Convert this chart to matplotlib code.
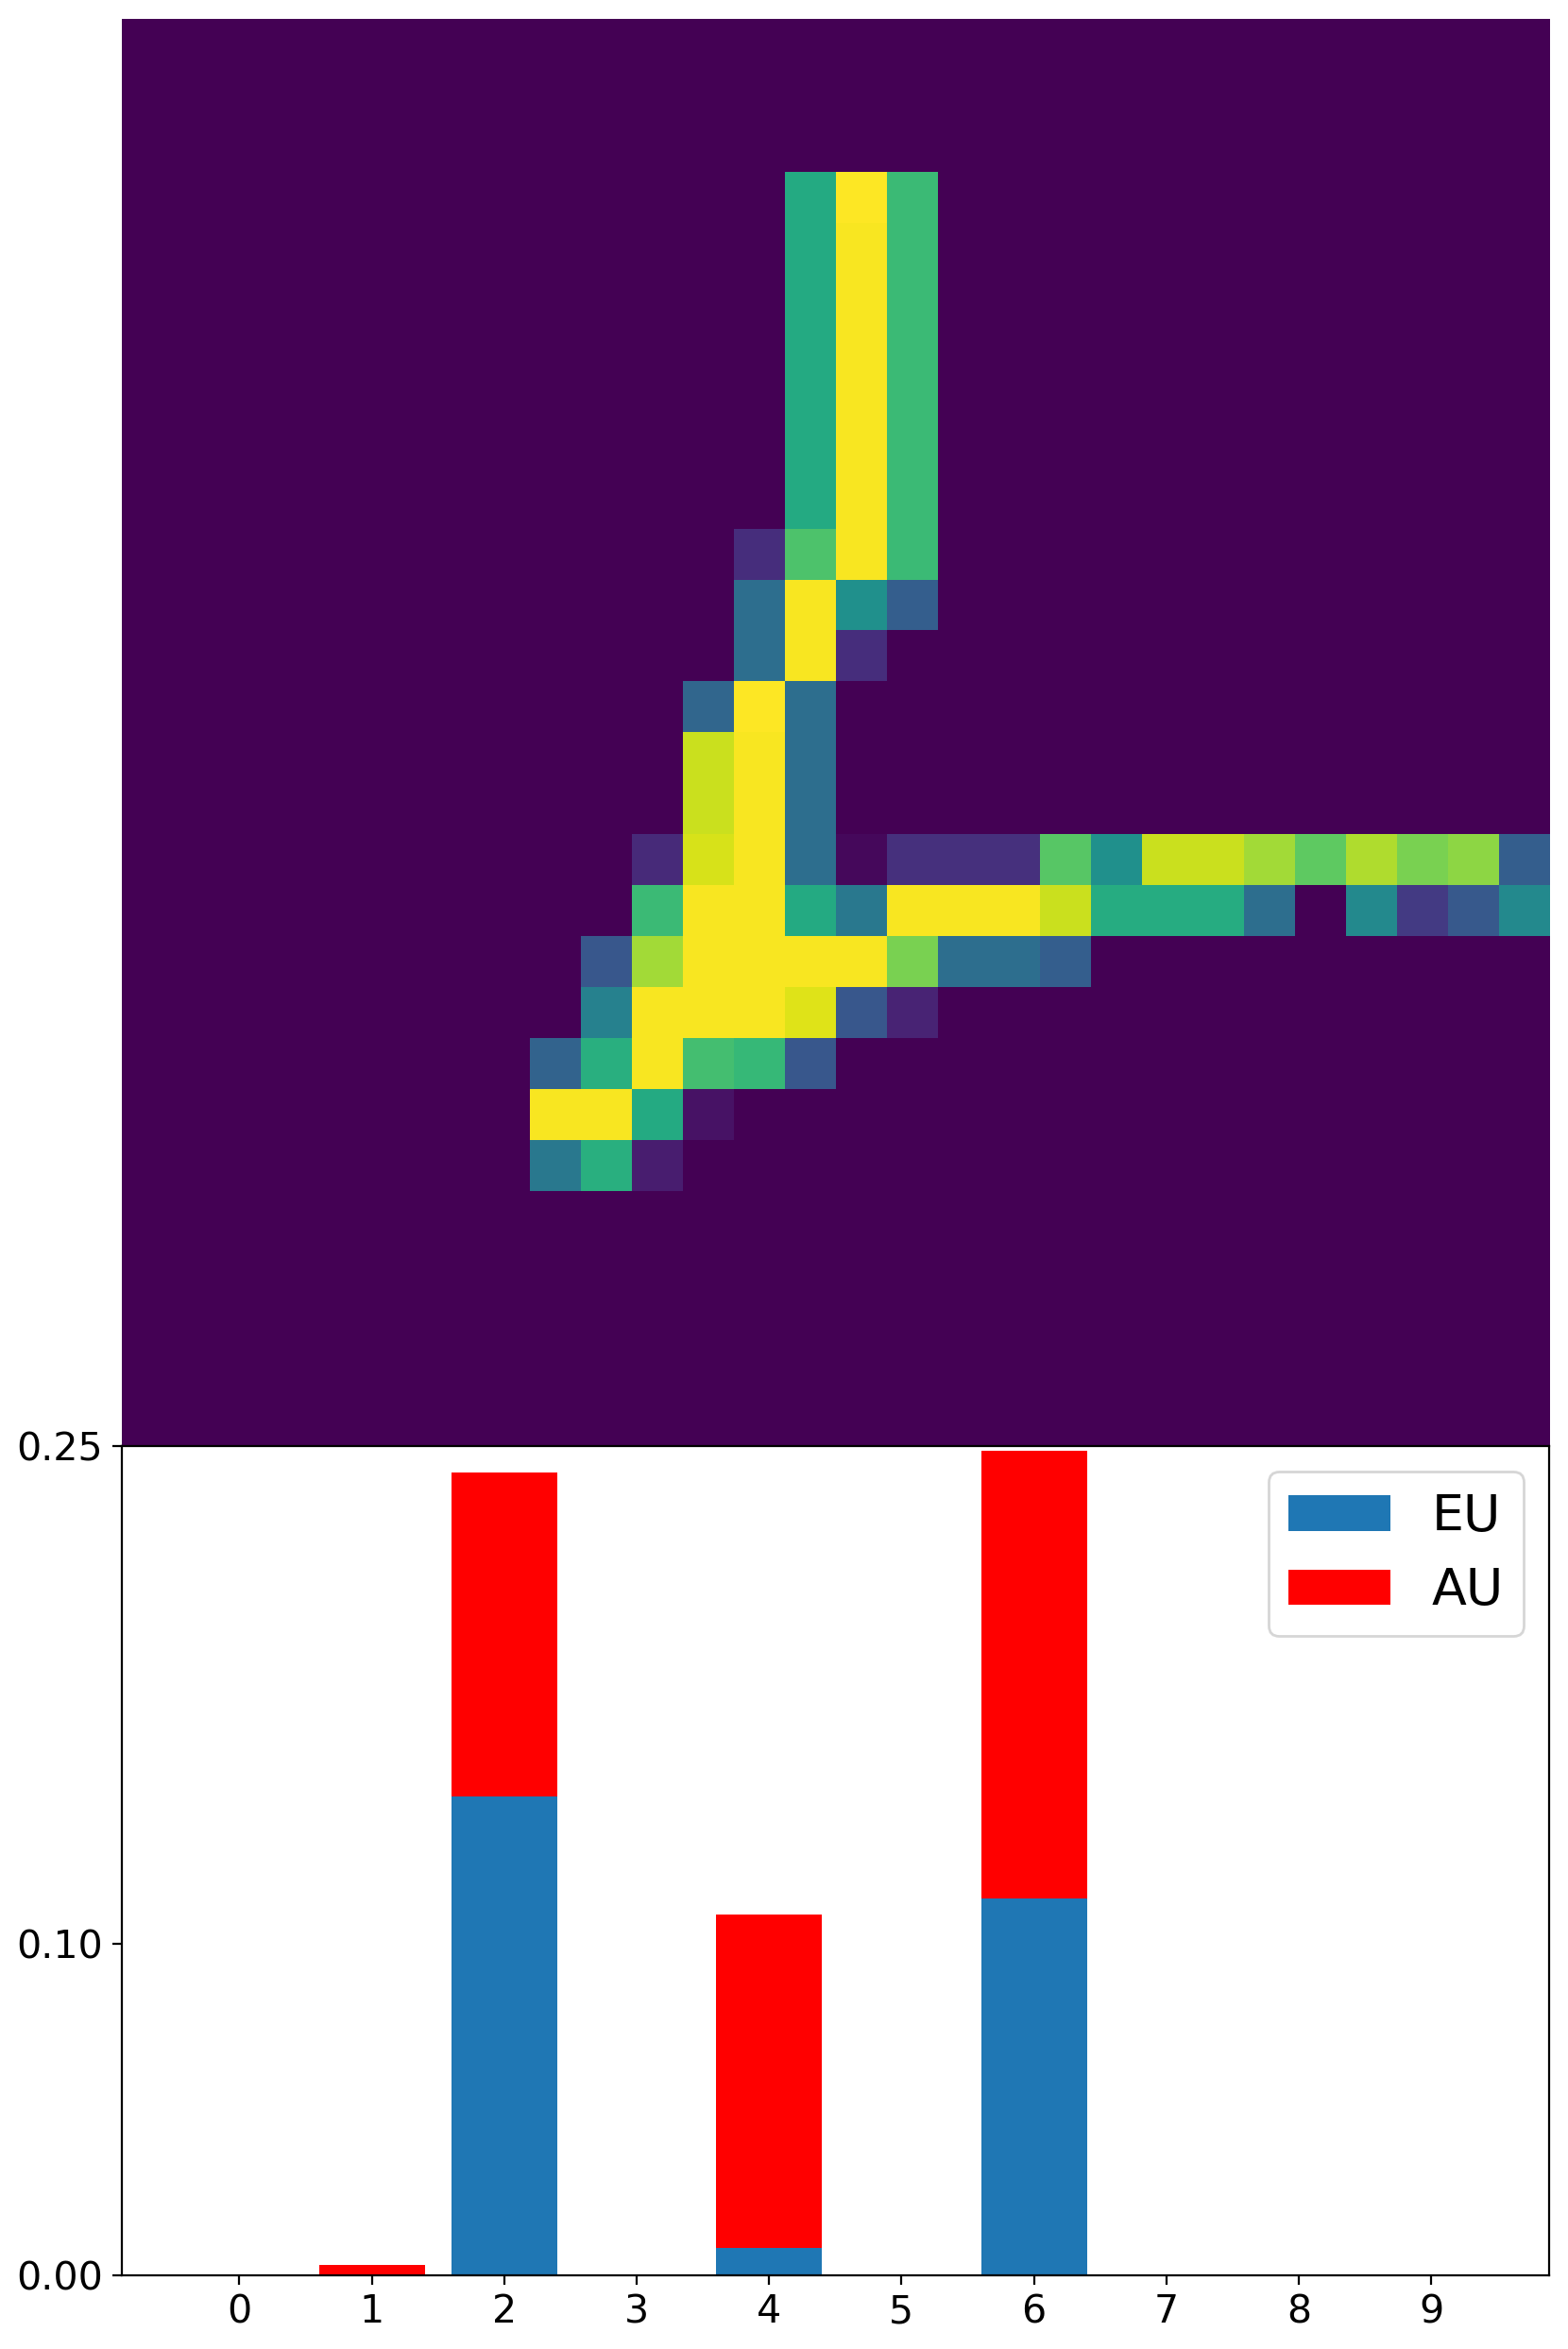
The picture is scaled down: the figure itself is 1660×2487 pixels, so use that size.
import numpy as np
import matplotlib
matplotlib.use("Agg")
import matplotlib.pyplot as plt

# digit image, row number -> (first column, pixel values)
digit_rows = {
    3: (13, [0.61, 1.00, 0.68]),
    4: (13, [0.61, 0.99, 0.68]),
    5: (13, [0.61, 0.99, 0.68]),
    6: (13, [0.61, 0.99, 0.68]),
    7: (13, [0.61, 0.99, 0.68]),
    8: (13, [0.61, 0.99, 0.68]),
    9: (13, [0.61, 0.99, 0.68]),
    10: (12, [0.13, 0.72, 0.99, 0.68]),
    11: (12, [0.36, 0.99, 0.50, 0.30]),
    12: (12, [0.36, 0.99, 0.13]),
    13: (11, [0.33, 1.00, 0.36]),
    14: (11, [0.92, 0.99, 0.36]),
    15: (11, [0.92, 0.99, 0.36]),
    16: (10, [0.12, 0.94, 0.99, 0.36, 0.02, 0.14, 0.14, 0.14, 0.74, 0.50,
              0.92, 0.92, 0.86, 0.75, 0.88, 0.80, 0.83, 0.30]),
    17: (10, [0.68, 0.99, 0.99, 0.61, 0.40, 0.99, 0.99, 0.99, 0.92, 0.62,
              0.62, 0.62, 0.36, 0.00, 0.47, 0.17, 0.28, 0.47]),
    18: (9, [0.27, 0.86, 0.99, 0.99, 0.99, 0.99, 0.80, 0.36, 0.36, 0.30]),
    19: (9, [0.44, 0.99, 0.99, 0.99, 0.95, 0.27, 0.10]),
    20: (8, [0.32, 0.63, 0.99, 0.70, 0.67, 0.27]),
    21: (8, [0.99, 0.99, 0.61, 0.05]),
    22: (8, [0.40, 0.63, 0.08]),
}

classes = [0, 1, 2, 3, 4, 5, 6, 7, 8, 9]
eu_values = [0.0, 0.0, 0.1445, 0.0, 0.0082, 0.0, 0.1135, 0.0, 0.0, 0.0]
au_values = [0.0, 0.003, 0.0975, 0.0, 0.1006, 0.0, 0.135, 0.0, 0.0, 0.0]
y_ticks = [0.0, 0.10, 0.25]
y_tick_labels = ["0.00", "0.10", "0.25"]

image = np.zeros((28, 28))
for row, (start, values) in digit_rows.items():
    image[row, start:start + len(values)] = values

W, H = 1660, 2487
fig = plt.figure(figsize=(W / 200, H / 200), dpi=200)

#image on top, bars right under it
ax_img = fig.add_axes([128.6 / W, 1 - 1531 / H, 1511.4 / W, 1511 / H])
ax_img.imshow(image, cmap="viridis", vmin=0, vmax=1, aspect="auto")
ax_img.axis("off")

ax_bar = fig.add_axes([128.6 / W, 1 - 2409 / H, 1511.4 / W, 878 / H])
ax_bar.bar(classes, eu_values, label="EU")
ax_bar.bar(classes, au_values, bottom=eu_values, color="red", label="AU")
ax_bar.set_xticks(classes)
ax_bar.set_ylim(0, 0.25)
ax_bar.set_yticks(y_ticks)
ax_bar.set_yticklabels(y_tick_labels)
ax_bar.tick_params(labelsize=14.8)
ax_bar.legend(fontsize=19.4, loc="upper right")

fig.savefig("out.png", dpi=200)
